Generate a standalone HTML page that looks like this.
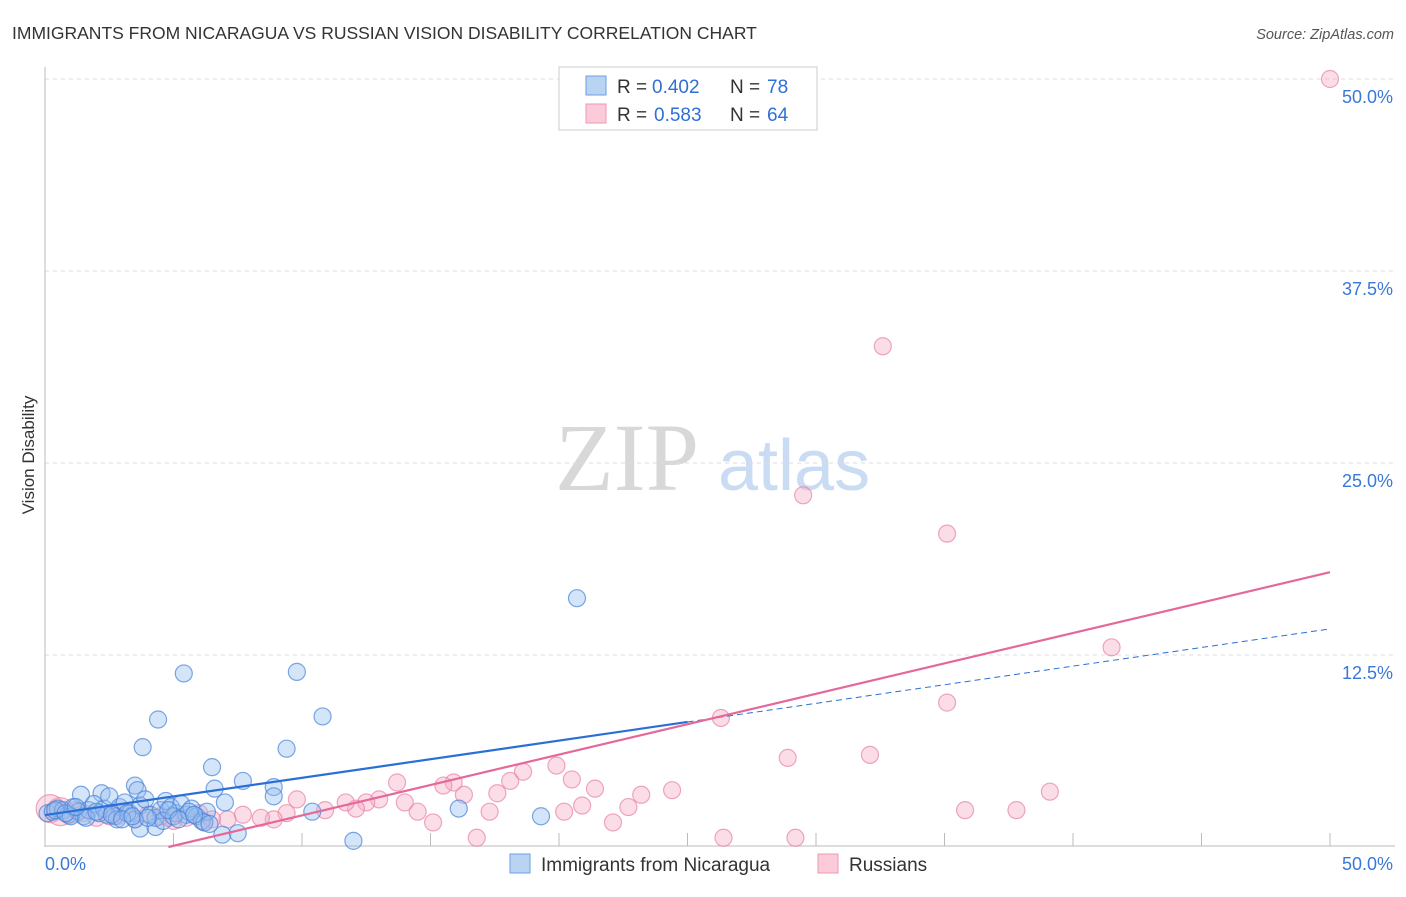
<!DOCTYPE html>
<html><head><meta charset="utf-8"><style>
body{margin:0;background:#fff;font-family:"Liberation Sans",sans-serif}
#wrap{position:relative;width:1406px;height:892px}
</style></head><body>
<div id="wrap">
<svg id="svg" width="1406" height="892" xmlns="http://www.w3.org/2000/svg">
<text x="12" y="39" font-size="17.5" fill="#333">IMMIGRANTS FROM NICARAGUA VS RUSSIAN VISION DISABILITY CORRELATION CHART</text>
<text x="1394" y="39" font-size="14.5" fill="#555" font-style="italic" text-anchor="end">Source: ZipAtlas.com</text>
<text x="555" y="490" font-size="96" fill="#d8d8d8" font-family="Liberation Serif,serif">ZIP</text>
<text x="718" y="490" font-size="72" fill="#c9dcf3">atlas</text>
<text transform="translate(34,455) rotate(-90)" font-size="17" fill="#333" text-anchor="middle">Vision Disability</text>
<g id="grid"></g><g id="pts"></g><g id="lines"></g>
<g>
<rect x="559" y="67" width="258" height="63" fill="#fff" stroke="#ccc"/>
<rect x="586" y="76" width="20" height="19" fill="#b9d3f3" stroke="#6e9ee0"/>
<rect x="586" y="104" width="20" height="19" fill="#fbcbd9" stroke="#ec9ab5"/>
<g font-size="19" fill="#333">
<text x="617" y="93">R =</text><text x="652" y="93" fill="#2f6fd6">0.402</text><text x="730" y="93">N =</text><text x="767" y="93" fill="#2f6fd6">78</text></g>
<g font-size="19" fill="#333">
<text x="617" y="121">R =</text><text x="654" y="121" fill="#2f6fd6">0.583</text><text x="730" y="121">N =</text><text x="767" y="121" fill="#2f6fd6">64</text></g>
</g>
<g>
<rect x="510" y="854" width="20" height="19" fill="#b9d3f3" stroke="#6e9ee0"/>
<text x="541" y="871" font-size="19" fill="#333">Immigrants from Nicaragua</text>
<rect x="818" y="854" width="20" height="19" fill="#fbcbd9" stroke="#ec9ab5"/>
<text x="849" y="871" font-size="19" fill="#333">Russians</text>
</g>
</svg></div>
<script>
const yTicks=[12.5,25,37.5,50];
const yTickLabels=["12.5%","25.0%","37.5%","50.0%"];
const xTickVals=[0,5,10,15,20,25,30,35,40,45,50];
const blueX=[5.4,9.8,4.4,10.8,3.8,9.4,6.5,7.7,20.7,16.1,19.3,12.0,6.9,7.5,8.9,8.9,10.4,3.5,3.6,1.4,2.2,3.7,4.3,7.0,6.6,0.1,0.3,0.5,0.7,0.9,1.1,1.3,1.5,1.7,1.9,2.1,2.3,2.5,2.7,2.9,3.1,3.3,3.5,3.7,3.9,4.1,4.3,4.5,4.7,4.9,5.1,5.3,5.5,5.7,5.9,6.1,6.3,1.0,1.6,2.4,2.8,3.2,4.6,5.0,5.6,6.2,0.4,0.8,1.2,2.0,2.6,3.0,3.4,4.0,4.8,5.2,5.8,6.4];
const blueY=[11.3,11.4,8.3,8.5,6.5,6.4,5.2,4.3,16.2,2.5,2.0,0.4,0.8,0.9,3.9,3.3,2.3,4.0,3.7,3.4,3.5,1.2,1.3,2.9,3.8,2.2,2.3,2.5,2.4,2.1,2.6,2.3,2.0,2.4,2.8,2.2,2.5,3.3,2.0,2.6,2.9,2.2,1.8,2.7,3.1,2.1,1.9,2.4,3.0,2.6,2.2,2.8,2.1,2.5,2.0,1.7,2.3,2.0,1.9,2.1,1.8,2.2,1.7,2.0,2.3,1.6,2.4,2.2,2.6,2.3,2.1,1.8,2.0,1.9,2.4,1.8,2.1,1.5];
const pinkX=[50,32.6,29.5,35.1,41.5,35.1,26.3,32.1,28.9,39.1,37.8,35.8,26.4,29.2,24.4,23.2,22.7,22.1,21.4,20.9,20.5,20.2,19.9,18.6,18.1,17.6,17.3,16.8,16.3,15.9,15.5,15.1,14.5,14.0,13.7,13.0,12.5,12.1,11.7,10.9,9.8,9.4,8.9,8.4,7.7,7.1,0.2,0.6,1.0,1.5,2.0,2.5,3.0,3.5,4.0,4.5,5.0,5.5,6.0,6.5,1.2,2.8,4.8,6.2];
const pinkY=[50,32.6,22.9,20.4,13.0,9.4,8.4,6.0,5.8,3.6,2.4,2.4,0.6,0.6,3.7,3.4,2.6,1.6,3.8,2.7,4.4,2.3,5.3,4.9,4.3,3.5,2.3,0.6,3.4,4.2,4.0,1.6,2.3,2.9,4.2,3.1,2.9,2.5,2.9,2.4,3.1,2.2,1.8,1.9,2.1,1.8,2.5,2.3,2.1,2.2,1.9,2.0,2.3,1.8,2.1,2.0,1.7,1.9,2.2,1.8,2.4,2.0,1.9,1.6];
const blueFit=[2.08,0.2424]; // intercept, slope
const pinkFit=[-1.9,0.3958];
const NS="http://www.w3.org/2000/svg";
const X=v=>45+v*25.7, Y=v=>847-v*15.36;
function mk(tag,attrs,parent){const e=document.createElementNS(NS,tag);for(const k in attrs)e.setAttribute(k,attrs[k]);parent.appendChild(e);return e;}
const grid=document.getElementById('grid'),pts=document.getElementById('pts'),lines=document.getElementById('lines');
yTicks.forEach((t,i)=>{
 const l=mk('line',{x1:45,x2:1395,y1:Y(t),y2:Y(t),stroke:'#ddd','stroke-dasharray':'4,4'},grid);
 
 
 const tx=mk('text',{x:1393,y:Y(t)+24,'font-size':18,fill:'#3a78d8','text-anchor':'end'},grid);
 tx.textContent=yTickLabels[i];
 
 
});
mk('line',{x1:45,x2:45,y1:67,y2:847,stroke:'#bbb'},grid);
mk('line',{x1:45,x2:1395,y1:846,y2:846,stroke:'#bbb'},grid);
xTickVals.forEach(t=>{
 const l=mk('line',{x1:X(t),x2:X(t),y1:833,y2:846,stroke:'#bbb'},grid);
 
 
});
const x0=mk('text',{x:45,y:870,'font-size':18,fill:'#3a78d8'},grid);x0.textContent='0.0%';


const x1=mk('text',{x:1393,y:870,'font-size':18,fill:'#3a78d8','text-anchor':'end'},grid);x1.textContent='50.0%';


pinkX.forEach((v,i)=>{
 const c=mk('circle',{cx:X(v),cy:Y(pinkY[i]),r:i>=46&&i<48?14:8.5,fill:'rgba(245,170,195,0.4)',stroke:'rgba(232,130,165,0.7)','stroke-width':1.2},pts);
 
 
});
blueX.forEach((v,i)=>{
 const c=mk('circle',{cx:X(v),cy:Y(blueY[i]),r:8.5,fill:'rgba(150,190,240,0.4)',stroke:'rgba(70,130,215,0.7)','stroke-width':1.2},pts);
 
 
});
const bEnd=25;
let l=mk('line',{x1:X(0),y1:Y(blueFit[0]),x2:X(bEnd),y2:Y(blueFit[0]+blueFit[1]*bEnd),stroke:'#2a6fd6','stroke-width':2.2},lines);


l=mk('line',{x1:X(bEnd),y1:Y(blueFit[0]+blueFit[1]*bEnd),x2:X(50),y2:Y(blueFit[0]+blueFit[1]*50),stroke:'#2a6fd6','stroke-width':1,'stroke-dasharray':'6,4'},lines);


const pStart=-pinkFit[0]/pinkFit[1];
l=mk('line',{x1:X(pStart),y1:Y(0),x2:X(50),y2:Y(pinkFit[0]+pinkFit[1]*50),stroke:'#e5689a','stroke-width':2.2},lines);


</script>
</body></html>
